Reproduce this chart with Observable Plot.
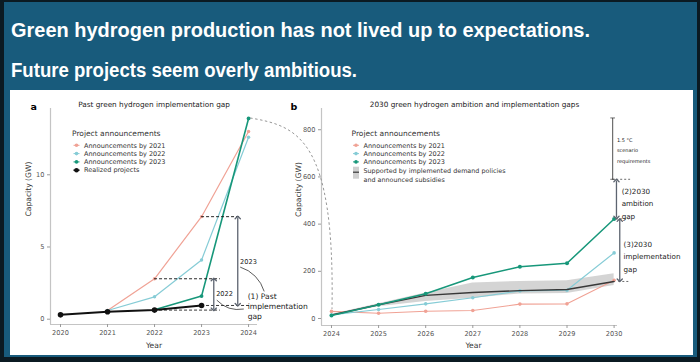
<!DOCTYPE html>
<html><head><meta charset="utf-8">
<script src="https://cdn.jsdelivr.net/npm/d3@7"></script>
<script src="https://cdn.jsdelivr.net/npm/@observablehq/plot@0.6"></script>
<style>
html,body{margin:0;padding:0;}
body{width:700px;height:362px;position:relative;overflow:hidden;background:#185b7c;}
.edge{position:absolute;background:#0b1a22;}
#titles{position:absolute;left:0;top:0;}
#panel{position:absolute;left:10px;top:90px;width:683px;height:265px;background:#fff;}
.plotbox{position:absolute;top:90px;}
</style>
</head><body>
<div class="edge" style="left:0;top:0;width:4px;height:362px"></div>
<div class="edge" style="left:0;top:0;width:700px;height:2px"></div>
<div class="edge" style="left:697px;top:0;width:3px;height:362px"></div>
<div class="edge" style="left:0;top:357px;width:700px;height:5px"></div>
<svg id="titles" width="700" height="90" style="font-family:'Liberation Sans',Arial,sans-serif;font-weight:bold;font-size:19.5px;fill:#fff">
  <text x="11" y="37" textLength="579" lengthAdjust="spacingAndGlyphs">Green hydrogen production has not lived up to expectations.</text>
  <text x="11" y="77" textLength="346" lengthAdjust="spacingAndGlyphs">Future projects seem overly ambitious.</text>
</svg>
<div id="panel"></div>
<div id="pb" class="plotbox" style="left:280px"></div>
<div id="pa" class="plotbox" style="left:10px"></div>
<script>
// ---------- data ----------
const FONT = "'DejaVu Sans', 'Noto Sans', sans-serif";
const seriesNames = ["Announcements by 2021", "Announcements by 2022", "Announcements by 2023", "Realized projects"];
const seriesColors = ["#f0a295", "#86ccd6", "#17977a", "#111111"];

// Panel a: past implementation gap (GW)
const aYears = [2020, 2021, 2022, 2023, 2024];
const aAnn2021 = [null, 0.6, 2.8, 7.1, 13.0];
const aAnn2022 = [null, 0.6, 1.55, 4.1, 12.6];
const aAnn2023 = [null, null, 0.65, 1.6, 13.9];
const aRealized = [0.3, 0.52, 0.63, 0.95, null];
const aYTicks = [0, 5, 10];

// Panel b: 2030 ambition and implementation gaps (GW)
const bYears = [2024, 2025, 2026, 2027, 2028, 2029, 2030];
const bAnn2021 = [30, 22, 31, 34, 61, 62, 162];
const bAnn2022 = [15, 38, 62, 88, 117, 120, 278];
const bAnn2023 = [13, 58, 105, 174, 219, 234, 422];
const bSupported = [15, 58, 98, 110, 118, 123, 157];
const bSupportedLow = [12, 50, 72, 86, 104, 106, 140];
const bSupportedHigh = [17, 62, 108, 150, 157, 160, 190];
const bYTicks = [0, 200, 400, 600, 800];
const scenarioRange = [590, 850];   // 1.5 °C scenario requirements

// Panel a annotations
const gapLabelsA = ["2022", "2023"];
const gapXA = [2023.26, 2023.77];
const gapTopA = [2.8, 7.1];
const gapBottomA = [0.63, 0.95];
const gapDashFromA = [2022, 2023];
const gapDashToTopA = [2023.4, 2023.85];
const gapDashToBottomA = [2023.4, 2024.05];

const rows = (years, vals) => years.map((x, i) => ({x, y: vals[i]})).filter(d => d.y != null);

// ---------- panel a ----------
const xDomA = [2019.787, 2024.19];
const yDomA = [-0.367, 14.59];
const axisStyle = {stroke: "#9a9a9a", fill: "#555", fontSize: 6.6};
const aLine = (vals, c, w) => Plot.line(rows(aYears, vals), {x: "x", y: "y", stroke: c, strokeWidth: w});
const aDot = (vals, c, r) => Plot.dot(rows(aYears, vals), {x: "x", y: "y", fill: c, r});

const plotA = Plot.plot({
  width: 300, height: 264, marginLeft: 40, marginRight: 53, marginTop: 18, marginBottom: 30,
  x: {domain: xDomA}, y: {domain: yDomA},
  style: {background: "transparent", overflow: "visible", fontFamily: FONT, fontSize: "7px", color: "#444"},
  marks: [
    Plot.ruleY([yDomA[0]], {stroke: "#c4c4c4", strokeWidth: 1.2}),
    Plot.ruleX([xDomA[0]], {stroke: "#c4c4c4", strokeWidth: 1.2}),
    Plot.axisX({ticks: aYears, tickFormat: "d", tickSize: 3, tickPadding: 3, label: null, ...axisStyle}),
    Plot.axisY({ticks: aYTicks, tickSize: 3, tickPadding: 3, label: null, ...axisStyle}),
    Plot.text(["Capacity (GW)"], {frameAnchor: "left", rotate: -90, dx: -22, fontSize: 7.6, fill: "#333"}),
    Plot.text(["Year"], {frameAnchor: "bottom", dy: 23, fontSize: 7.6, fill: "#333"}),
    Plot.text(["Past green hydrogen implementation gap"], {frameAnchor: "top", dy: -7, fontSize: 7.3, fill: "#222"}),
    Plot.text(["a"], {frameAnchor: "top-left", dx: -20, dy: -5, fontSize: 9.5, fontWeight: "bold", fill: "#000"}),
    aLine(aAnn2021, seriesColors[0], 1.2),
    aLine(aAnn2022, seriesColors[1], 1.2),
    aLine(aAnn2023, seriesColors[2], 1.6),
    aDot(aAnn2021, seriesColors[0], 1.7),
    aDot(aAnn2022, seriesColors[1], 1.7),
    aDot(aAnn2023, seriesColors[2], 1.9),
    // gap dashed guide lines
    Plot.ruleY(gapTopA, {y: d => d, x1: (d, i) => gapDashFromA[i], x2: (d, i) => gapDashToTopA[i], stroke: "#111", strokeDasharray: "3,2", strokeWidth: 0.9}),
    Plot.ruleY(gapBottomA, {y: d => d, x1: (d, i) => gapDashFromA[i], x2: (d, i) => gapDashToBottomA[i], stroke: "#222", strokeDasharray: "3,2", strokeWidth: 0.9}),
    aLine(aRealized, seriesColors[3], 2),
    aDot(aRealized, seriesColors[3], 2.8),
    // gap arrows
    Plot.link(gapLabelsA, {x1: (d, i) => gapXA[i], x2: (d, i) => gapXA[i], y1: (d, i) => gapTopA[i] - 0.05, y2: (d, i) => gapBottomA[i] + 0.05,
      stroke: "#5d6470", strokeWidth: 1.3, markerStart: "arrow-reverse", markerEnd: "arrow"}),
    Plot.text(gapLabelsA, {x: (d, i) => gapXA[i] + 0.05, y: (d, i) => [1.73, 3.94][i], text: d => d, textAnchor: "start", fontSize: 6.6, fill: "#222"}),
    // connectors to the "(1) Past implementation gap" label
    Plot.arrow([0], {x1: 2023.83, y1: 3.6, x2: 2024.33, y2: 1.95, bend: 28, headLength: 0, stroke: "#333", strokeWidth: 0.8}),
    Plot.arrow([0], {x1: 2023.33, y1: 1.3, x2: 2023.89, y2: 0.7, bend: -28, headLength: 0, stroke: "#333", strokeWidth: 0.8}),
    Plot.text(["(1) Past\nimplementation\ngap"], {x: 2023.98, y: 1.62, textAnchor: "start", lineAnchor: "middle", lineHeight: 1.3, fontSize: 7.6, fill: "#222", dy: 10})
  ]
});
document.getElementById("pa").append(plotA);

// ---------- panel b ----------
const xDomB = [2023.788, 2030.072];
const yDomB = [-29.7, 890];
const bLine = (vals, c, w) => Plot.line(rows(bYears, vals), {x: "x", y: "y", stroke: c, strokeWidth: w});
const bDot = (vals, c, r) => Plot.dot(rows(bYears, vals), {x: "x", y: "y", fill: c, r});
const bandRows = bYears.map((x, i) => ({x, lo: bSupportedLow[i], hi: bSupportedHigh[i]}));

const plotB = Plot.plot({
  width: 414, height: 264, marginLeft: 41, marginRight: 77, marginTop: 18, marginBottom: 29,
  x: {domain: xDomB}, y: {domain: yDomB},
  style: {background: "transparent", overflow: "visible", fontFamily: FONT, fontSize: "7px", color: "#444"},
  marks: [
    Plot.ruleY([yDomB[0]], {stroke: "#c4c4c4", strokeWidth: 1.2}),
    Plot.ruleX([xDomB[0]], {stroke: "#c4c4c4", strokeWidth: 1.2}),
    Plot.axisX({ticks: bYears, tickFormat: "d", tickSize: 3, tickPadding: 3, label: null, ...axisStyle}),
    Plot.axisY({ticks: bYTicks, tickSize: 3, tickPadding: 3, label: null, ...axisStyle}),
    Plot.text(["Capacity (GW)"], {frameAnchor: "left", rotate: -90, dx: -23, fontSize: 7.6, fill: "#333"}),
    Plot.text(["Year"], {frameAnchor: "bottom", dy: 22, dx: 4, fontSize: 7.6, fill: "#333"}),
    Plot.text(["2030 green hydrogen ambition and implementation gaps"], {frameAnchor: "top", dy: -7, dx: 5, fontSize: 7.3, fill: "#222"}),
    Plot.text(["b"], {frameAnchor: "top-left", dx: -31, dy: -5, fontSize: 9.5, fontWeight: "bold", fill: "#000"}),
    Plot.areaY(bandRows, {x: "x", y1: "lo", y2: "hi", fill: "#cfcfcf", fillOpacity: 0.9}),
    bLine(bAnn2021, seriesColors[0], 1.1),
    bDot(bAnn2021, seriesColors[0], 1.8),
    bLine(bAnn2022, seriesColors[1], 1.2),
    bDot(bAnn2022, seriesColors[1], 1.8),
    bLine(bSupported, "#383838", 1.4),
    bLine(bAnn2023, seriesColors[2], 1.5),
    bDot(bAnn2023, seriesColors[2], 2),
    // 1.5 °C scenario requirement bar
    Plot.link([0], {x1: 2029.97, x2: 2029.97, y1: scenarioRange[0], y2: scenarioRange[1], stroke: "#222", strokeWidth: 0.8, markerStart: "tick", markerEnd: "tick"}),
    Plot.text(["1.5 °C\nscenario\nrequirements"], {x: 2030.06, y: 763, textAnchor: "start", lineAnchor: "top", lineHeight: 2.1, fontSize: 5, fill: "#222", dy: -4}),
    // dashed ticks
    Plot.ruleY([scenarioRange[0], bAnn2023[6], bSupported[6]], {x1: [2029.97, 2030.05, 2030.1], x2: [2030.35, 2030.32, 2030.35], stroke: "#444", strokeDasharray: "2,2", strokeWidth: 0.8}),
    // (2) ambition gap arrow
    Plot.link([0], {x1: 2030.05, x2: 2030.05, y1: scenarioRange[0] - 5, y2: bAnn2023[6] + 6, stroke: "#5d6470", strokeWidth: 1.3, markerStart: "arrow-reverse", markerEnd: "arrow"}),
    Plot.text(["(2)2030\nambition\ngap"], {x: 2030.16, y: 543, textAnchor: "start", lineAnchor: "top", lineHeight: 1.7, fontSize: 7.2, fill: "#222", dy: -5}),
    // (3) implementation gap arrow
    Plot.link([0], {x1: 2030.12, x2: 2030.12, y1: bAnn2023[6] - 5, y2: bSupported[6] + 5, stroke: "#5d6470", strokeWidth: 1.3, markerStart: "arrow-reverse", markerEnd: "arrow"}),
    Plot.text(["(3)2030\nimplementation\ngap"], {x: 2030.2, y: 318, textAnchor: "start", lineAnchor: "top", lineHeight: 1.7, fontSize: 7.2, fill: "#222", dy: -5})
  ]
});
document.getElementById("pb").append(plotB);

// ---------- overlay: connector arc + legends ----------
const ov = d3.select("body").append("svg")
  .attr("width", 700).attr("height", 362)
  .style("position", "absolute").style("left", "0px").style("top", "0px").style("pointer-events", "none")
  .style("font-family", FONT);

const ax = plotA.scale("x"), ay = plotA.scale("y");
const bx = plotB.scale("x"), by = plotB.scale("y");
const S = [ax.apply(aYears[4]) + 10 + 2, ay.apply(aAnn2023[4]) + 90];
const E = [bx.apply(bYears[0]) + 280 + 1, by.apply(bAnn2021[0]) + 90 - 2];
const arc = d3.path();
arc.moveTo(S[0], S[1]);
arc.bezierCurveTo(S[0] + 48, S[1] + 8, E[0] + 3, E[1] - 170, E[0], E[1]);
ov.append("path").attr("d", arc.toString()).attr("fill", "none").attr("stroke", "#8a8a8a")
  .attr("stroke-width", 0.9).attr("stroke-dasharray", "2.5,2.5");

function legend(x, y, names, colors, extra) {
  const g = ov.append("g").attr("transform", `translate(${x},${y})`);
  g.append("text").attr("x", 0).attr("y", 0).attr("dy", "0.35em").attr("font-size", 7.5).attr("fill", "#333").text("Project announcements");
  names.forEach((n, i) => {
    const yy = 12.3 + i * 8.3;
    g.append("line").attr("x1", 1.5).attr("x2", 7.5).attr("y1", yy).attr("y2", yy).attr("stroke", colors[i]).attr("stroke-width", i === 3 ? 1.6 : 1);
    g.append("circle").attr("cx", 4.5).attr("cy", yy).attr("r", i === 3 ? 2.3 : 1.8).attr("fill", colors[i]);
    g.append("text").attr("x", 12).attr("y", yy).attr("dy", "0.35em").attr("font-size", 6.5).attr("fill", "#333").text(n);
  });
  if (extra) {
    const yy = 12.3 + names.length * 8.3 + 0.5;
    g.append("rect").attr("x", 1.5).attr("y", yy - 4).attr("width", 6).attr("height", 12).attr("fill", "#cfcfcf");
    g.append("line").attr("x1", 1.5).attr("x2", 7.5).attr("y1", yy + 1.5).attr("y2", yy + 1.5).attr("stroke", "#383838").attr("stroke-width", 1.2);
    extra.forEach((t, j) => g.append("text").attr("x", 12).attr("y", yy + j * 8.6).attr("dy", "0.35em").attr("font-size", 6.4).attr("fill", "#333").text(t));
  }
}
legend(72, 133, seriesNames, seriesColors);
legend(351.5, 133, seriesNames.slice(0, 3), seriesColors.slice(0, 3),
  ["Supported by implemented demand policies", "and announced subsidies"]);
</script>
</body></html>
